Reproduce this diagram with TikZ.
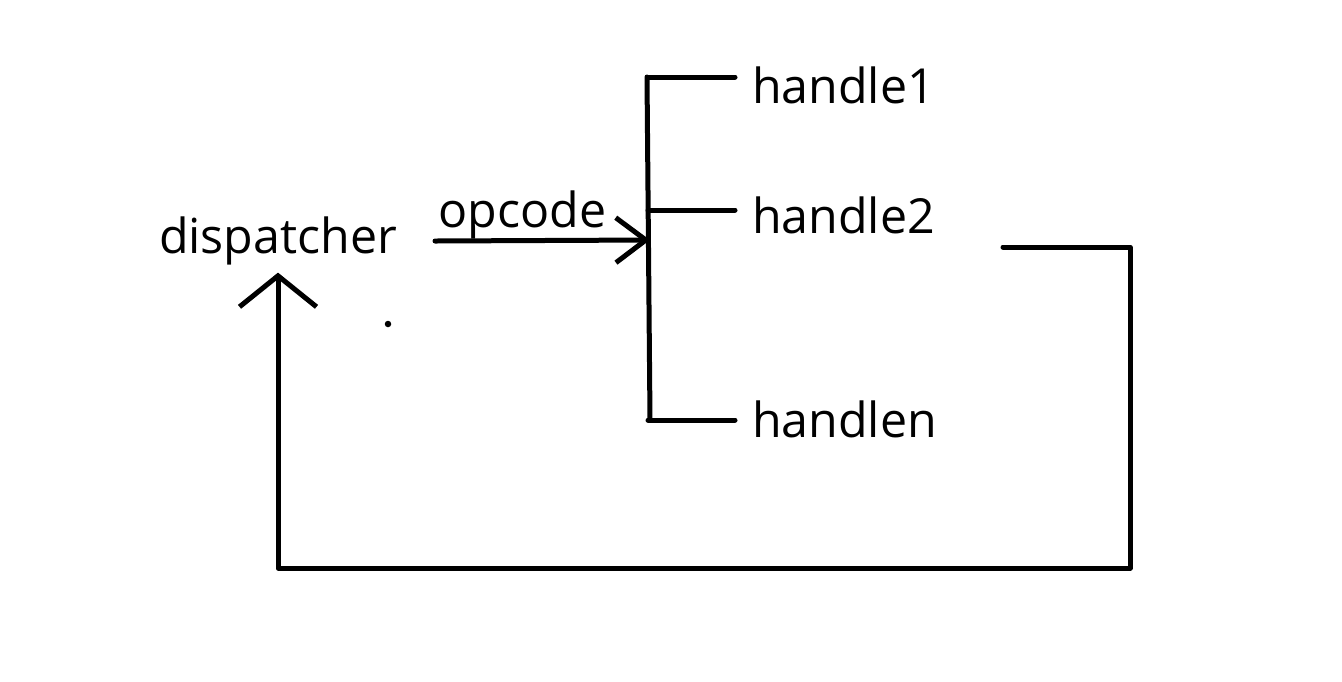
\documentclass[tikz,border=0pt]{standalone}
\usepackage{fontspec}
\setmainfont{Open Sans}
\usetikzlibrary{arrows.meta}

\begin{document}
\begin{tikzpicture}[x=0.02cm, y=-0.02cm, line width=0.1cm, line cap=round, line join=round,
  lbl/.style={inner sep=0pt, font=\fontsize{27.5}{32}\selectfont},
  hnd/.style={lbl, anchor=base west, outer xsep=0.34cm},
  arr/.style={-{Straight Barb[length=0.6cm, width=0.9cm]}},
  back/.style={-{Straight Barb[length=0.62cm, width=1.54cm]}}]
\useasboundingbox (0,0) rectangle (1342,681);
\node[lbl, anchor=base, outer ysep=0.16cm] (disp) at (278,253) {dispatcher};
\node[lbl, anchor=base west] (op) at (436,227) {opcode};
\node[hnd] (h1) at (735,103) {handle1};
\node[hnd] (h2) at (735,233) {handle2};
\node[hnd] (hn) at (735,437) {handlen};
\coordinate (src) at (435,241);
\coordinate (hub) at (650,240);
\coordinate (top) at (647,77);
\coordinate (bot) at (650,420);
\coordinate (ret) at (1003,247);
\draw[arr] (src) -- (hub);
\draw (top) -- (bot);
\foreach \h/\y in {h1/77, h2/210, hn/420} \draw (648,\y) -- (\h.west |- 0,\y);
\draw[back] (ret) -| (1130,568) -| (disp.south);
\fill (388,324) circle (0.065cm);
\end{tikzpicture}
\end{document}
